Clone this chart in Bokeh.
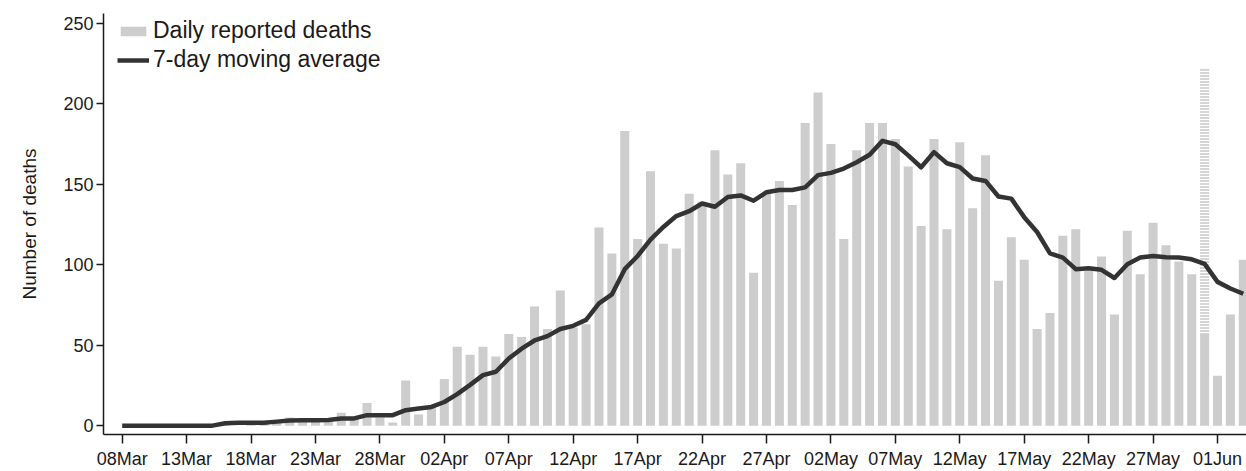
import pandas as pd
from bokeh.plotting import figure
from bokeh.models import (ColumnDataSource, FixedTicker, DatetimeTickFormatter,
                          Range1d, Legend, LegendItem)
from bokeh.embed import file_html
from bokeh.resources import INLINE

# ---------------- data ----------------
start_date = "2020-03-08"
dates = pd.date_range(start_date, periods=88, freq="D")

deaths = [0, 0, 0, 0, 0, 0, 0, 0,
          1, 0, 1, 1, 2,
          5, 4, 3, 3, 8, 5, 14, 5, 2, 28, 7,
          12, 29, 49, 44, 49, 43, 57, 55, 74, 60, 84, 61, 63, 123, 107, 183, 116, 158,
          113, 110, 144, 139, 171, 156, 163, 95, 145, 152, 137, 188,
          207, 175, 116, 171, 188, 188, 178, 161, 124, 178, 122, 176, 135, 168, 90, 117,
          103, 60, 70, 118, 122, 96, 105, 69, 121, 94, 126, 112, 102, 94, 57,
          31, 69, 103]

avg7 = [0, 0, 0, 0, 0, 0, 0, 0,
        1.5, 1.8, 1.8, 1.8, 2.5, 3.2, 3.3, 3.4, 3.5, 4.5, 4.5, 6.5, 6.5, 6.5, 9.6, 10.6,
        11.6, 14.7, 19.6, 25.3, 31.4, 33.5, 41.7, 47.8, 52.9, 55.6, 60, 62, 65.7, 76, 81.5,
        97.2, 105.4, 115.6, 123.4, 130.2, 133.2, 138, 136, 142, 143, 139.7, 145, 146.4,
        146.4, 148,
        155.6, 157, 159.7, 163.6, 168.3, 176.9, 174.8, 167.9, 160.5, 169.9, 163, 160.6,
        153.5, 152, 142.3, 141, 129.5, 120.3, 107, 104.4, 97.2, 97.8, 96.8, 91.7, 100.3,
        104.4, 105.4, 104.6, 104.4, 103.3, 100.5,
        89.3, 85.2, 81.9]

# backlog (hatched) part of the daily bar
backlog_dates = [pd.Timestamp("2020-05-31")]
backlog_bottom = [57]
backlog_top = [222]

tick_dates = pd.date_range("2020-03-08", "2020-06-01", freq="5D")
y_ticks = [0, 50, 100, 150, 200, 250]

# ---------------- helpers ----------------
DAY = 86400000.0
def ms(ts):
    return (pd.Timestamp(ts) - pd.Timestamp("1970-01-01")).total_seconds() * 1000.0

FONT = "Liberation Sans"
TXT = "#1a1a1a"

src = ColumnDataSource(dict(x=dates, deaths=deaths, avg=avg7))
bsrc = ColumnDataSource(dict(x=backlog_dates, bottom=backlog_bottom, top=backlog_top))

p = figure(width=1246, height=471, output_backend="svg", toolbar_location=None,
           x_axis_type="datetime",
           x_range=Range1d(ms(dates[0]) - 1.45 * DAY, ms(dates[-1]) + 0.25 * DAY),
           y_range=Range1d(-5.5, 256),
           min_border_left=103, min_border_right=0, min_border_top=13, min_border_bottom=34)
p.outline_line_color = None
p.xgrid.visible = False
p.ygrid.visible = False
p.background_fill_color = "white"

bars = p.vbar(x="x", top="deaths", bottom=0, width=0.7 * DAY, source=src,
              fill_color="#cdcdcd", line_color=None)
p.vbar(x="x", bottom="bottom", top="top", width=0.7 * DAY, source=bsrc,
       fill_color="#d4d4d4", line_color=None,
       hatch_pattern="horizontal_line", hatch_color="white", hatch_scale=3, hatch_weight=1)
line = p.line(x="x", y="avg", source=src, line_color="#333333", line_width=4.5,
              line_join="round")

# axes
fmt = DatetimeTickFormatter(days="%d%b", months="%d%b", hours="%d%b", years="%d%b")
p.xaxis.ticker = FixedTicker(ticks=[ms(d) for d in tick_dates])
p.xaxis.formatter = fmt
p.yaxis.ticker = FixedTicker(ticks=y_ticks)
for ax in (p.xaxis, p.yaxis):
    ax.axis_line_color = TXT
    ax.axis_line_width = 1.5
    ax.major_tick_line_color = TXT
    ax.major_tick_line_width = 1.5
    ax.major_tick_in = 0
    ax.minor_tick_line_color = None
    ax.major_label_text_font = FONT
    ax.major_label_text_font_size = "18px"
    ax.major_label_text_color = TXT
p.xaxis.major_tick_out = 9
p.xaxis.major_label_standoff = 5
p.yaxis.major_tick_out = 7
p.yaxis.major_label_standoff = 3
p.yaxis.axis_label = "Number of deaths"
p.yaxis.axis_label_text_font = FONT
p.yaxis.axis_label_text_font_size = "19px"
p.yaxis.axis_label_text_font_style = "normal"
p.yaxis.axis_label_text_color = TXT
p.yaxis.axis_label_standoff = 20

legend = Legend(items=[LegendItem(label="Daily reported deaths", renderers=[bars]),
                       LegendItem(label="7-day moving average", renderers=[line])],
                location=(14, 361), margin=0, padding=3,
                border_line_color=None, background_fill_alpha=0,
                glyph_width=32, glyph_height=12, label_height=24, spacing=2,
                label_standoff=4, label_text_font=FONT, label_text_font_size="23px",
                label_text_color=TXT)
p.add_layout(legend)

open("out.html", "w").write(file_html(p, INLINE))
